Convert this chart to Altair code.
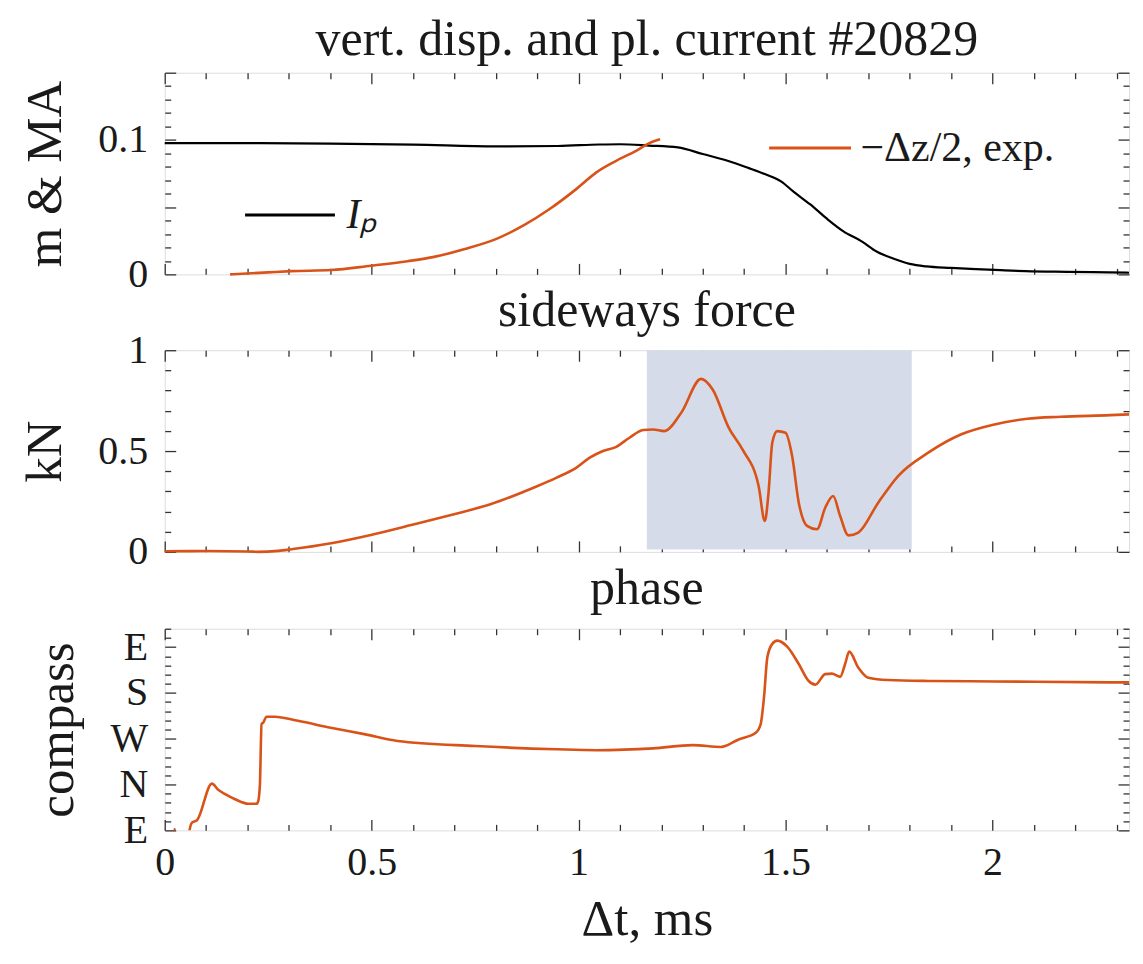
import altair as alt
import pandas as pd

# ---------------- data ----------------
# panel 1: plasma current I_p (MA) and -dz/2 (m)
t_ip = [0, 0.2, 0.4, 0.6, 0.8, 0.95, 1.05, 1.1, 1.17, 1.24, 1.3, 1.36, 1.41, 1.45,
        1.49, 1.52, 1.56, 1.60, 1.64, 1.685, 1.72, 1.76, 1.80, 1.84, 1.90, 1.96,
        2.02, 2.08, 2.18, 2.28, 2.33]
ip = [0.0976, 0.0976, 0.0972, 0.0965, 0.0952, 0.0955, 0.0966, 0.0968, 0.0958,
      0.0944, 0.0895, 0.0845, 0.0792, 0.0746, 0.0690, 0.0613, 0.0520, 0.0414,
      0.0320, 0.0244, 0.0170, 0.0118, 0.0078, 0.0059, 0.0048, 0.0039, 0.0031,
      0.0024, 0.0019, 0.0015, 0.0012]

t_dz = [0.158, 0.25, 0.306, 0.402, 0.498, 0.587, 0.651, 0.723, 0.803, 0.867,
        0.931, 0.995, 1.043, 1.091, 1.139, 1.171, 1.197]
dz = [0.0, 0.0015, 0.0024, 0.0032, 0.0064, 0.0098, 0.013, 0.0187, 0.0266, 0.0364,
      0.0488, 0.0636, 0.0759, 0.0845, 0.0919, 0.0976, 0.1005]

# panel 2: sideways force (kN)
t_f = [0, 0.1, 0.2, 0.226, 0.274, 0.306, 0.402, 0.498, 0.603, 0.699,
       0.787, 0.891, 0.947, 0.995, 1.027, 1.059, 1.091, 1.123, 1.156, 1.18,
       1.207, 1.248, 1.296, 1.324, 1.363, 1.396, 1.435, 1.45, 1.459, 1.468,
       1.48, 1.5, 1.516, 1.532, 1.552, 1.576, 1.596, 1.615, 1.632, 1.652,
       1.676, 1.724, 1.772, 1.845, 1.925, 2.005, 2.084, 2.165, 2.285, 2.33]
force = [0.003, 0.004, 0.002, 0.0, 0.005, 0.013, 0.043, 0.084, 0.137, 0.187,
         0.236, 0.318, 0.368, 0.418, 0.467, 0.5, 0.521, 0.566, 0.604, 0.607,
         0.599, 0.690, 0.858, 0.805, 0.615, 0.508, 0.327, 0.153, 0.294, 0.541,
         0.599, 0.591, 0.475, 0.244, 0.129, 0.112, 0.219, 0.277, 0.178, 0.082,
         0.096, 0.244, 0.376, 0.492, 0.583, 0.632, 0.660, 0.670, 0.678, 0.682]
shade_t = [1.165, 1.805]
shade_v = [0.012, 1.0]

# panel 3: phase (quarter turns: E=0, N=1, W=2, S=3, E=4)
t_p = [0, 0.018, 0.024, 0.03, 0.055, 0.06, 0.066, 0.078, 0.114, 0.13, 0.146,
       0.17, 0.202, 0.222, 0.226, 0.23, 0.234, 0.238, 0.246, 0.266, 0.322,
       0.401, 0.482, 0.5625, 0.75, 0.947, 1.043, 1.18, 1.276, 1.344, 1.388,
       1.428, 1.44, 1.448, 1.456, 1.468, 1.48, 1.504, 1.532, 1.556, 1.572,
       1.596, 1.612, 1.632, 1.644, 1.654, 1.676, 1.7, 1.748, 1.844, 2.005,
       2.285, 2.33]
phase = [-0.4, -0.4, 0.03, -0.4, -0.4, 0.0, 0.17, 0.22, 1.02, 0.88, 0.79,
         0.68, 0.58, 0.58, 0.64, 1.0, 2.32, 2.35, 2.48, 2.48, 2.39,
         2.24, 2.10, 1.95, 1.84, 1.77, 1.75, 1.79, 1.86, 1.82, 1.99,
         2.13, 2.32, 2.90, 3.77, 4.07, 4.14, 4.01, 3.63, 3.26, 3.18,
         3.41, 3.42, 3.35, 3.63, 3.90, 3.55, 3.33, 3.28, 3.26, 3.25,
         3.23, 3.23]

# ticks and labels
x_domain = [0, 2.33]
x_major = [0, 0.5, 1, 1.5, 2]
x_minor = [0.1, 0.2, 0.3, 0.4, 0.6, 0.7, 0.8, 0.9, 1.1, 1.2, 1.3, 1.4, 1.6, 1.7,
           1.8, 1.9, 2.1, 2.2, 2.3]

y1_domain = [0, 0.15]
y1_labels = [0, 0.1]
y1_major = [0, 0.05, 0.1, 0.15]
y1_minor = [0.01, 0.02, 0.03, 0.04, 0.06, 0.07, 0.08, 0.09, 0.11, 0.12, 0.13, 0.14]

y2_domain = [0, 1]
y2_labels = [0, 0.5, 1]
y2_major = [0, 0.5, 1]
y2_minor = [0.1, 0.2, 0.3, 0.4, 0.6, 0.7, 0.8, 0.9]

y3_domain = [0, 4.4]
y3_labels = [0, 1, 2, 3, 4]
y3_names = ["E", "N", "W", "S", "E"]
y3_major = [0, 1, 2, 3, 4]
y3_minor = [0.2, 0.4, 0.6, 0.8, 1.2, 1.4, 1.6, 1.8, 2.2, 2.4, 2.6, 2.8, 3.2,
            3.4, 3.6, 3.8, 4.2, 4.4]

# ---------------- style ----------------
FONT = "Liberation Serif"
ORANGE = "#D95319"
FRAME = "#333333"
TEXT = "#1a1a1a"
W, H = 966, 202
LAB = 40
ATITLE = 51
PTITLE = 50

df_ip = pd.DataFrame({"t": t_ip, "v": ip, "s": "Iₚ"})
df_dz = pd.DataFrame({"t": t_dz, "v": dz, "s": "−Δz/2, exp."})
df_f = pd.DataFrame({"t": t_f, "v": force})
df_shade = pd.DataFrame({"t0": [shade_t[0]], "t1": [shade_t[1]],
                         "v0": [shade_v[0]], "v1": [shade_v[1]]})
df_p = pd.DataFrame({"t": t_p, "v": phase})

xs = alt.Scale(domain=x_domain, nice=False, zero=False)


def yscale(dom):
    return alt.Scale(domain=dom, nice=False, zero=False)


def tick_axis(orient, values, size):
    return alt.Axis(orient=orient, values=values, tickSize=size, offset=-size,
                    labels=False, domain=False, grid=False, title=None,
                    tickColor=FRAME, tickWidth=1.3)


def tick_layers(df, ydom, ymaj, ymin):
    base = alt.Chart(df).mark_point(opacity=0)
    out = []
    for xo, yo, xv, yv, size in [("bottom", "left", x_major, ymaj, 11),
                                 ("bottom", "left", x_minor, ymin, 6),
                                 ("top", "right", x_major, ymaj, 11),
                                 ("top", "right", x_minor, ymin, 6)]:
        out.append(base.encode(
            x=alt.X("t:Q", scale=xs, axis=tick_axis(xo, xv, size)),
            y=alt.Y("v:Q", scale=yscale(ydom), axis=tick_axis(yo, yv, size)),
        ))
    return out


def y_label_axis(values, title, title_x, label_expr=None, fmt="~g"):
    kw = dict(orient="left", values=values, ticks=False, domain=False, grid=False,
              labelPadding=17, labelFont=FONT, labelFontSize=LAB, labelColor=TEXT,
              labelFlush=False,
              title=title, titleFont=FONT, titleFontSize=ATITLE,
              titleFontWeight="normal", titleColor=TEXT, titleX=title_x,
              titleBaseline="alphabetic", titleAngle=270)
    if label_expr:
        kw["labelExpr"] = label_expr
    else:
        kw["format"] = fmt
    return alt.Axis(**kw)


def ptitle(text, offset):
    return alt.Title(text, font=FONT, fontSize=PTITLE, fontWeight="normal",
                     color=TEXT, anchor="middle", frame="group", offset=offset)


# ---------------- panel 1 ----------------
ip_line = alt.Chart(df_ip).mark_line(strokeWidth=2.2, interpolate="monotone").encode(
    x=alt.X("t:Q", scale=xs, axis=None),
    y=alt.Y("v:Q", scale=yscale(y1_domain),
            axis=y_label_axis(y1_labels, "m & MA", -104)),
    color=alt.Color("s:N", scale=alt.Scale(domain=["Iₚ"], range=["black"]),
                    legend=alt.Legend(orient="none", legendX=79, legendY=96,
                                      title=None, symbolType="stroke",
                                      symbolSize=8100, symbolStrokeWidth=3,
                                      labelFont=FONT, labelFontSize=42,
                                      labelFontStyle="italic", labelColor=TEXT,
                                      labelOffset=10, labelLimit=400)),
)
dz_line = alt.Chart(df_dz).mark_line(strokeWidth=2.6, interpolate="monotone").encode(
    x=alt.X("t:Q", scale=xs, axis=None),
    y=alt.Y("v:Q", scale=yscale(y1_domain), axis=None),
    color=alt.Color("s:N", scale=alt.Scale(domain=["−Δz/2, exp."], range=[ORANGE]),
                    legend=alt.Legend(orient="none", legendX=604, legendY=33,
                                      title=None, symbolType="stroke",
                                      symbolSize=6724, symbolStrokeWidth=3,
                                      labelFont=FONT, labelFontSize=42,
                                      labelColor=TEXT, labelOffset=8,
                                      labelLimit=500)),
)
p1 = alt.layer(ip_line, dz_line, *tick_layers(df_ip, y1_domain, y1_major, y1_minor)).resolve_scale(
    color="independent").resolve_axis(x="independent", y="independent").properties(
    width=W, height=H, title=ptitle("vert. disp. and pl. current #20829", 7))

# ---------------- panel 2 ----------------
shade = alt.Chart(df_shade).mark_rect(color="#d5dbe8").encode(
    x=alt.X("t0:Q", scale=xs, axis=None), x2="t1:Q",
    y=alt.Y("v0:Q", scale=yscale(y2_domain), axis=None), y2="v1:Q",
)
f_line = alt.Chart(df_f).mark_line(color=ORANGE, strokeWidth=2.6, interpolate="monotone").encode(
    x=alt.X("t:Q", scale=xs, axis=None),
    y=alt.Y("v:Q", scale=yscale(y2_domain),
            axis=y_label_axis(y2_labels, "kN", -104)),
)
p2 = alt.layer(shade, f_line, *tick_layers(df_f, y2_domain, y2_major, y2_minor)).resolve_axis(
    x="independent", y="independent").properties(
    width=W, height=H, title=ptitle("sideways force", -6))

# ---------------- panel 3 ----------------
p_line = alt.Chart(df_p).mark_line(color=ORANGE, strokeWidth=2.6, clip=True,
                                   interpolate="monotone").encode(
    x=alt.X("t:Q", scale=xs,
            axis=alt.Axis(orient="bottom", values=x_major, ticks=False, domain=False,
                          grid=False, format="~g", labelPadding=12, labelFont=FONT,
                          labelFontSize=LAB, labelColor=TEXT, labelFlush=False,
                          title="Δt, ms",
                          titleFont=FONT, titleFontSize=ATITLE, titleFontWeight="normal",
                          titleColor=TEXT, titleY=104, titleBaseline="alphabetic")),
    y=alt.Y("v:Q", scale=yscale(y3_domain),
            axis=y_label_axis(y3_labels, "compass", -92,
                              label_expr="['E','N','W','S','E'][datum.value]")),
)
p3 = alt.layer(p_line, *tick_layers(df_p, y3_domain, y3_major, y3_minor)).resolve_axis(
    x="independent", y="independent").properties(
    width=W, height=H, title=ptitle("phase", 13))

chart = alt.vconcat(p1, p2, p3, spacing=-10).resolve_scale(
    x="independent", y="independent", color="independent").properties(
    padding={"left": 11, "top": 5, "right": 0, "bottom": 0}
).configure_view(stroke=FRAME, strokeWidth=1.5).configure(background="white")

chart.save("out.html", embed_options={"renderer": "svg", "actions": False})
